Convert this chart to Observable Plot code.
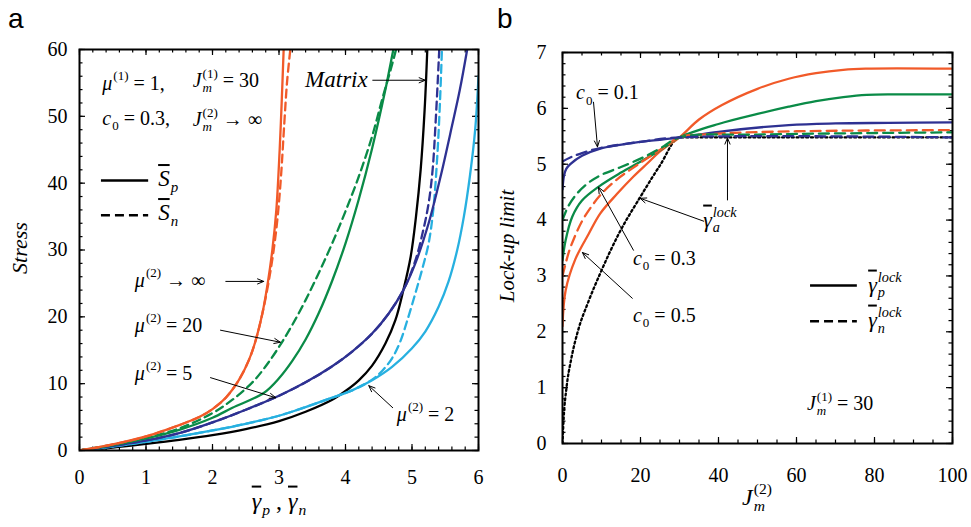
<!DOCTYPE html>
<html><head><meta charset="utf-8">
<script src="https://cdn.jsdelivr.net/npm/d3@7"></script>
<script src="https://cdn.jsdelivr.net/npm/@observablehq/plot@0.6"></script>
<style>
body{margin:0;background:#fff;}
#wrap{position:relative;width:971px;height:527px;overflow:hidden;font-family:"Liberation Serif","Times New Roman",Times,"DejaVu Serif",serif;color:#000;}
.panel{position:absolute;top:0;}
.lab{position:absolute;white-space:nowrap;font-size:20px;line-height:1;}
.ss{display:inline-flex;flex-direction:column;font-size:0.65em;line-height:1.08;vertical-align:0.7em;margin-left:1px;}
.ss span{display:block;}
.sup{font-size:0.65em;vertical-align:0.75em;margin-left:1px;}
.sub{font-size:0.65em;vertical-align:-0.4em;margin-left:1px;}
.ob{text-decoration:overline;text-decoration-thickness:1.5px;}
.letter{position:absolute;font-family:"Liberation Sans",Arial,"DejaVu Sans",sans-serif;font-size:28px;line-height:1;}
</style></head>
<body><div id="wrap"></div>
<script>
// ---------- Panel a data: [gamma, stress] ----------
const aInfP = [[0,0],[0.5,0.9],[1,2.1],[1.5,3.8],[1.8,5.0],[2.0,6.2],[2.2,7.9],[2.4,10.6],[2.55,13.6],[2.65,16.5],[2.75,20.5],[2.83,25],[2.9,30],[2.96,36],[3.01,45],[3.04,52],[3.07,60]];
const aInfN = [[0,0],[0.5,0.9],[1,2.1],[1.5,3.8],[1.8,5.0],[2.0,6.2],[2.2,7.9],[2.4,10.6],[2.55,13.6],[2.65,16.5],[2.75,20.5],[2.84,25],[2.92,30],[2.98,35],[3.03,41],[3.08,49],[3.12,55],[3.17,60]];
const a20P = [[0,0],[0.5,0.8],[1,1.8],[1.5,3.1],[2,4.9],[2.3,6.4],[2.77,8.6],[3.0,10.8],[3.2,13.4],[3.4,16.6],[3.6,20.6],[3.8,25.4],[4.0,31.0],[4.2,37.6],[4.4,45.2],[4.6,54.0],[4.68,58],[4.72,60]];
const a20N = [[0,0],[0.5,0.85],[1,1.9],[1.5,3.3],[2,5.6],[2.3,7.6],[2.6,10.2],[2.8,12.6],[3.0,15.5],[3.2,18.8],[3.4,22.5],[3.6,26.6],[3.8,31.0],[4.0,35.8],[4.2,41.0],[4.4,47.0],[4.55,52.5],[4.68,57],[4.76,60]];
const a5P = [[0,0],[0.5,0.7],[1,1.5],[1.5,2.6],[2,4.2],[2.5,6.1],[3.0,8.2],[3.4,10.2],[3.8,12.6],[4.1,14.8],[4.4,17.5],[4.65,20.5],[4.87,24],[5.05,28],[5.25,34],[5.43,41],[5.6,48.5],[5.72,54],[5.83,60]];
const a5N = [[0,0],[0.5,0.7],[1,1.5],[1.5,2.6],[2,4.2],[2.5,6.1],[3.0,8.2],[3.4,10.2],[3.8,12.6],[4.1,14.8],[4.4,17.5],[4.65,20.5],[4.87,24],[5.05,28.4],[5.17,33],[5.25,37],[5.31,42],[5.36,50],[5.41,60]];
const a2P = [[0,0],[0.5,0.6],[1,1.3],[1.5,2.1],[2,3.0],[2.5,4.0],[3.0,5.2],[3.4,6.5],[3.8,7.9],[4.1,9.0],[4.4,10.5],[4.7,12.5],[5.0,15.3],[5.2,17.8],[5.4,21.5],[5.55,25.3],[5.68,30],[5.78,35],[5.87,41],[5.95,48],[6.0,56]];
const a2N = [[0,0],[0.5,0.6],[1,1.3],[1.5,2.1],[2,3.0],[2.5,4.0],[3.0,5.2],[3.4,6.5],[3.8,7.9],[4.1,9.0],[4.4,10.6],[4.55,11.9],[4.7,13.8],[4.82,16.2],[4.93,19.5],[5.05,23.5],[5.15,27],[5.25,31],[5.32,36],[5.38,44],[5.42,52],[5.45,60]];
const aMatrix = [[0,0],[0.5,0.45],[1,1.0],[1.5,1.6],[2,2.3],[2.5,3.2],[3.0,4.4],[3.4,5.8],[3.8,7.6],[4.0,8.9],[4.2,10.5],[4.4,12.7],[4.6,16],[4.75,19.5],[4.87,24],[4.98,29],[5.06,35],[5.13,42],[5.19,51],[5.23,60]];
const aXTicks = [0,1,2,3,4,5,6];
const aYTicks = [0,10,20,30,40,50,60];

// ---------- Panel b data: [Jm2, lock-up limit] ----------
const bC05P = [[0,2.1],[0.8,2.74],[3.3,3.3],[6.7,3.75],[9.7,4.12],[14,4.47],[18.2,4.78],[22,5.03],[25,5.23],[30,5.48],[35,5.8],[40.9,6.06],[50,6.35],[58,6.53],[65,6.63],[72,6.69],[77.7,6.71],[100,6.71]];
const bC05N = [[0,3.0],[1.6,3.42],[3,3.68],[5,3.98],[7.5,4.25],[10,4.47],[14,4.73],[18,4.93],[22,5.12],[26,5.3],[30,5.48],[38,5.54],[60,5.59],[100,5.61]];
const bC03P = [[0,3.28],[0.8,3.64],[2.5,4.06],[5,4.35],[9.3,4.6],[15,4.85],[19.6,5.03],[25,5.25],[30,5.48],[40,5.72],[50,5.9],[58,6.03],[65,6.13],[72,6.2],[78,6.24],[85,6.25],[100,6.25]];
const bC03N = [[0,4.0],[1.5,4.25],[3.8,4.48],[6.5,4.66],[9.7,4.8],[15,4.95],[20,5.1],[25,5.28],[30,5.48],[50,5.53],[100,5.57]];
const bC01P = [[0,4.55],[0.4,4.8],[1,4.92],[2,5.0],[5,5.15],[9.7,5.28],[20,5.4],[29.4,5.47],[40,5.58],[58,5.7],[70,5.73],[83.6,5.74],[100,5.75]];
const bC01N = [[0,5.05],[2,5.12],[5,5.2],[9.7,5.29],[20,5.4],[30,5.48],[100,5.48]];
const bGammaA = [[0,0],[0.3,0.45],[1.03,1.0],[2.2,1.5],[3.9,2.0],[6.7,2.55],[9.7,3.05],[14.4,3.75],[20,4.42],[25,4.98],[30,5.48],[100,5.48]];
const bXTicks = [0,20,40,60,80,100];
const bYTicks = [0,1,2,3,4,5,6,7];

// ---------- annotation anchors (data units) ----------
const aArrows = [
  {x1:4.41,y1:55.4,x2:5.2,y2:55.4},
  {x1:2.2,y1:25.3,x2:2.77,y2:25.3},
  {x1:2.12,y1:18.0,x2:3.02,y2:16.2},
  {x1:1.97,y1:10.9,x2:2.95,y2:7.9},
  {x1:4.71,y1:6.4,x2:4.35,y2:9.7}
];
const bArrows = [
  {x1:7.95,y1:6.11,x2:8.97,y2:5.31},
  {x1:36.2,y1:3.98,x2:19.9,y2:4.39},
  {x1:42.3,y1:4.36,x2:42.3,y2:5.47},
  {x1:18.2,y1:3.46,x2:9.2,y2:4.59},
  {x1:17.9,y1:2.6,x2:5.1,y2:3.42}
];
const aLegend = [{x1:0.33,x2:1.04,y:40.4,dash:false},{x1:0.33,x2:1.04,y:35.2,dash:true}];
const bLegend = [{x1:63.6,x2:75.6,y:2.83,dash:false},{x1:63.6,x2:75.6,y:2.19,dash:true}];

const ORANGE="#f15a29", GREEN="#0a8b47", BLUE="#2e3192", CYAN="#27b0e0", BLACK="#000";
const SERIF="Liberation Serif, Times New Roman, Times, DejaVu Serif, serif";

function ticksMarks(xMaj,xMin,yMaj,yMin,innerW,innerH){
  const M=6,m=3.5,o={stroke:"black",strokeWidth:1.2};
  return [
    Plot.ruleX(xMaj,{x:d=>d,insetTop:innerH-M,...o}),
    Plot.ruleX(xMaj,{x:d=>d,insetBottom:innerH-M,...o}),
    Plot.ruleX(xMin,{x:d=>d,insetTop:innerH-m,...o}),
    Plot.ruleX(xMin,{x:d=>d,insetBottom:innerH-m,...o}),
    Plot.ruleY(yMaj,{y:d=>d,insetRight:innerW-M,...o}),
    Plot.ruleY(yMaj,{y:d=>d,insetLeft:innerW-M,...o}),
    Plot.ruleY(yMin,{y:d=>d,insetRight:innerW-m,...o}),
    Plot.ruleY(yMin,{y:d=>d,insetLeft:innerW-m,...o})
  ];
}
function lineMark(data,color,dash,extra={}){
  return Plot.line(data,{x:d=>d[0],y:d=>d[1],stroke:color,strokeWidth:2.3,curve:"catmull-rom",
    strokeDasharray:dash||null,clip:true,...extra});
}

// ---------- Panel a ----------
const aW=490,aH=527,aML=79,aMR=12,aMT=49,aMB=77;
const aInW=aW-aML-aMR, aInH=aH-aMT-aMB;
const aDash="8,5";
const plotA = Plot.plot({
  width:aW,height:aH,marginLeft:aML,marginRight:aMR,marginTop:aMT,marginBottom:aMB,
  style:{fontFamily:SERIF,fontSize:"20px",background:"transparent",overflow:"visible"},
  x:{domain:[0,6]}, y:{domain:[0,60]},
  marks:[
    ...ticksMarks(aXTicks,d3.range(0,6.001,0.2),aYTicks,d3.range(0,60.001,2),aInW,aInH),
    lineMark(aMatrix,BLACK),
    lineMark(a2P,CYAN), lineMark(a2N,CYAN,aDash),
    lineMark(a5P,BLUE), lineMark(a5N,BLUE,aDash),
    lineMark(a20P,GREEN), lineMark(a20N,GREEN,aDash),
    lineMark(aInfP,ORANGE), lineMark(aInfN,ORANGE,aDash),
    Plot.ruleY(aLegend.filter(d=>!d.dash),{y:"y",x1:"x1",x2:"x2",stroke:"black",strokeWidth:2.5}),
    Plot.ruleY(aLegend.filter(d=>d.dash),{y:"y",x1:"x1",x2:"x2",stroke:"black",strokeWidth:2.5,strokeDasharray:"9,5"}),
    Plot.arrow(aArrows,{x1:"x1",y1:"y1",x2:"x2",y2:"y2",stroke:"black",strokeWidth:1,headLength:10,headAngle:45}),
    Plot.frame({stroke:"black",strokeWidth:2}),
    Plot.axisX({ticks:aXTicks,tickSize:0,tickPadding:19,fontSize:20,fontFamily:SERIF,label:null,tickFormat:d=>String(d)}),
    Plot.axisY({ticks:aYTicks,tickSize:0,tickPadding:12,fontSize:20,fontFamily:SERIF,label:null,tickFormat:d=>String(d)})
  ]
});

// ---------- Panel b ----------
const bW=481,bH=527,bML=72,bMR=19,bMT=52,bMB=84;
const bInW=bW-bML-bMR, bInH=bH-bMT-bMB;
const bDash="10,6";
const plotB = Plot.plot({
  width:bW,height:bH,marginLeft:bML,marginRight:bMR,marginTop:bMT,marginBottom:bMB,
  style:{fontFamily:SERIF,fontSize:"20px",background:"transparent",overflow:"visible"},
  x:{domain:[0,100]}, y:{domain:[0,7]},
  marks:[
    ...ticksMarks(bXTicks,d3.range(0,100.001,5),bYTicks,d3.range(0,7.001,0.2),bInW,bInH),
    lineMark(bGammaA,BLACK,"2,2.8",{strokeWidth:2.3,curve:"monotone-x"}),
    lineMark(bC05P,ORANGE), lineMark(bC03P,GREEN), lineMark(bC01P,BLUE),
    lineMark(bC05N,ORANGE,bDash), lineMark(bC03N,GREEN,bDash), lineMark(bC01N,BLUE,bDash),
    Plot.ruleY(bLegend.filter(d=>!d.dash),{y:"y",x1:"x1",x2:"x2",stroke:"black",strokeWidth:2.5}),
    Plot.ruleY(bLegend.filter(d=>d.dash),{y:"y",x1:"x1",x2:"x2",stroke:"black",strokeWidth:2.5,strokeDasharray:"9,5"}),
    Plot.arrow(bArrows,{x1:"x1",y1:"y1",x2:"x2",y2:"y2",stroke:"black",strokeWidth:1,headLength:10,headAngle:45}),
    Plot.frame({stroke:"black",strokeWidth:2}),
    Plot.axisX({ticks:bXTicks,tickSize:0,tickPadding:24,fontSize:20,fontFamily:SERIF,label:null,tickFormat:d=>String(d)}),
    Plot.axisY({ticks:bYTicks,tickSize:0,tickPadding:16,fontSize:20,fontFamily:SERIF,label:null,tickFormat:d=>String(d)})
  ]
});

const wrap=document.getElementById("wrap");
plotA.classList.add("panel"); plotA.style.left="0px";
plotB.classList.add("panel"); plotB.style.left="490px";
wrap.appendChild(plotA); wrap.appendChild(plotB);

// ---------- text helpers ----------
const J=(sup,sub)=>`<i>J</i><span class="ss"><span>(${sup})</span><span><i>${sub}</i></span></span>`;
const gl=(sub)=>`<span class="ob"><i>γ</i></span><span class="ss"><span><i>lock</i></span><span><i>${sub}</i></span></span>`;
const mu=(s)=>`<i>μ</i><span class="sup">(${s})</span>`;
const c0=`<i>c</i><span class="sub">0</span>`;
function lab(plot,off,x,y,html,extra=""){
  const d=document.createElement("div");
  d.className="lab"; d.innerHTML=html;
  const px=plot.scale("x").apply(x)+off, py=plot.scale("y").apply(y);
  d.style.left=px+"px"; d.style.top=py+"px"; d.style.transform="translate(0,-50%)";
  if(extra) d.style.cssText+=extra;
  wrap.appendChild(d); return d;
}
function abs(left,top,html,extra=""){
  const d=document.createElement("div");
  d.className="lab"; d.innerHTML=html;
  d.style.left=left+"px"; d.style.top=top+"px";
  d.style.cssText+=extra;
  wrap.appendChild(d); return d;
}
// panel a text
lab(plotA,0,0.35,55.2,`${mu(1)} = 1,`);
lab(plotA,0,1.71,55.2,`${J(1,"m")} = 30`);
lab(plotA,0,0.35,49.4,`${c0} = 0.3,`);
lab(plotA,0,1.71,49.4,`${J(2,"m")} → ∞`);
lab(plotA,0,1.19,40.3,`<span class="ob"><i>S</i></span><span class="sub"><i>p</i></span>`,"font-size:23px;");
lab(plotA,0,1.19,35.2,`<span class="ob"><i>S</i></span><span class="sub"><i>n</i></span>`,"font-size:23px;");
lab(plotA,0,3.4,55.5,`<i>Matrix</i>`,"font-size:23px;");
lab(plotA,0,0.84,25.7,`${mu(2)} → ∞`);
lab(plotA,0,0.84,19.0,`${mu(2)} = 20`);
lab(plotA,0,0.84,11.8,`${mu(2)} = 5`);
lab(plotA,0,4.78,5.7,`${mu(2)} = 2`);
// panel b text
lab(plotB,490,3.6,6.24,`${c0} = 0.1`);
lab(plotB,490,36.2,4.0,gl("a"),"font-size:22px;");
lab(plotB,490,18.2,3.28,`${c0} = 0.3`);
lab(plotB,490,18.2,2.26,`${c0} = 0.5`);
lab(plotB,490,78.5,2.83,gl("p"),"font-size:22px;");
lab(plotB,490,78.5,2.2,gl("n"),"font-size:22px;");
lab(plotB,490,62.8,0.70,`${J(1,"m")} = 30`);
// axis titles
abs(20,248,`<i>Stress</i>`,"font-size:22px;transform:translate(-50%,-50%) rotate(-90deg);");
abs(279,503,`<span class="ob"><i>γ</i></span><span class="sub"><i>p</i></span> , <span class="ob"><i>γ</i></span><span class="sub"><i>n</i></span>`,"font-size:24px;transform:translate(-50%,-50%);");
abs(507,246,`<i>Lock-up limit</i>`,"font-size:21px;transform:translate(-50%,-50%) rotate(-90deg);");
abs(757,498,J(2,"m"),"font-size:24px;transform:translate(-50%,-50%);");
// panel letters
const la=document.createElement("div");la.className="letter";la.textContent="a";la.style.left="8px";la.style.top="5px";wrap.appendChild(la);
const lb=document.createElement("div");lb.className="letter";lb.textContent="b";lb.style.left="497px";lb.style.top="5px";wrap.appendChild(lb);
</script></body></html>
